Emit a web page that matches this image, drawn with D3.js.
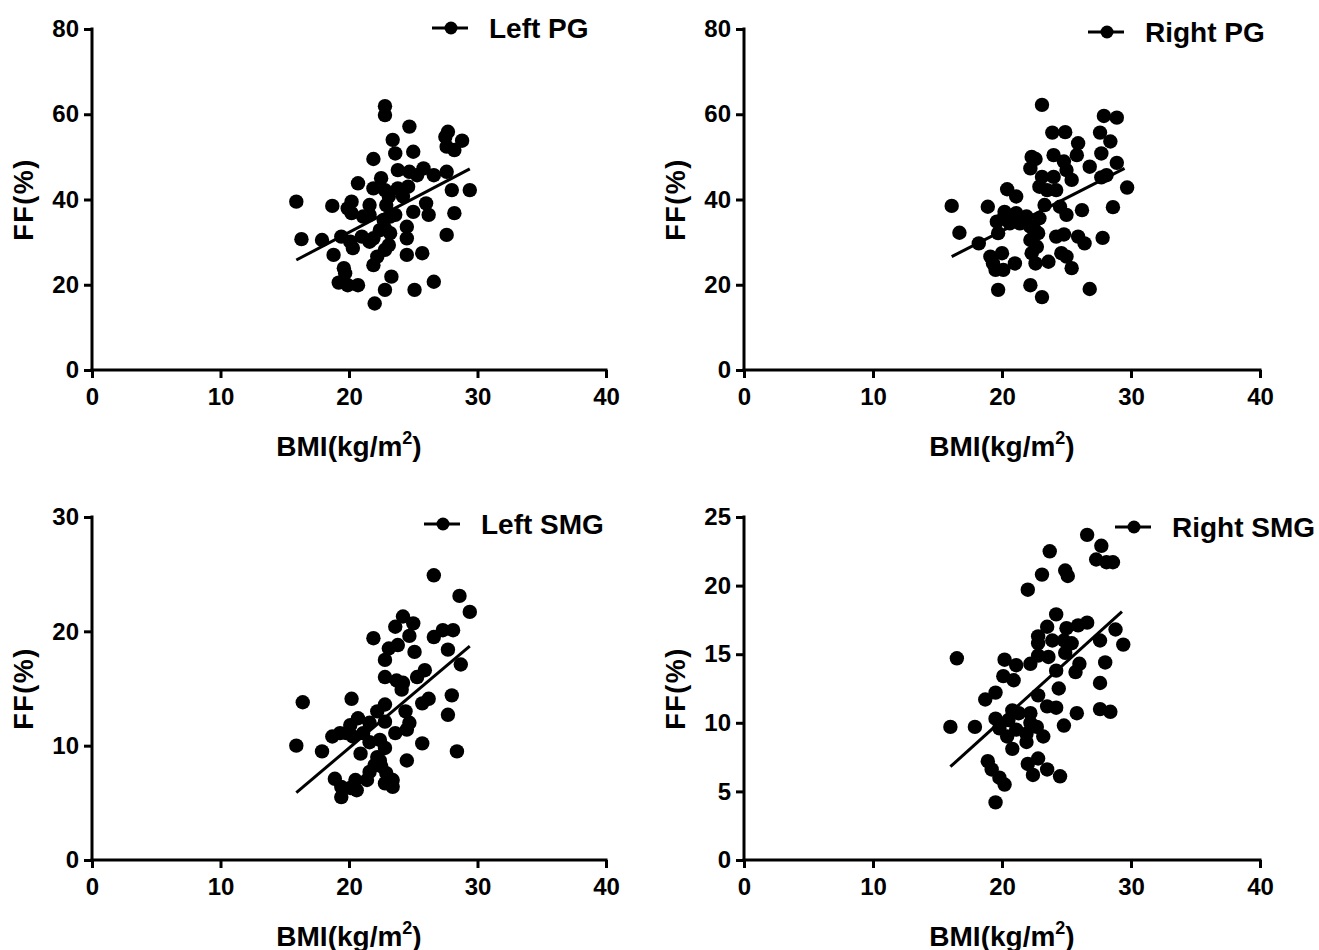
<!DOCTYPE html>
<html>
<head>
<meta charset="utf-8">
<script src="https://cdn.jsdelivr.net/npm/d3@7"></script>
<style>
    body { margin: 0; background: #fff; }
    text { font-family: "Liberation Sans", Arial, sans-serif; font-weight: bold; fill: #000; }
</style>
</head>
<body>
<main></main>
<script>
// values
const leftPgBmi = [22.8,22.8,24.7,27.7,28.8,27.5,28.2,27.6,23.4,23.6,25.0,21.9,23.8,24.7,25.8,26.6,27.6,25.3,22.5,20.7,21.9,22.8,23.8,24.6,28.0,29.4,15.9,18.7,20.2,19.9,21.6,23.1,22.9,24.2,26.0,28.2,26.2,25.0,20.2,21.6,21.1,23.2,23.6,16.3,17.9,19.4,21.0,21.9,22.8,24.5,24.5,20.3,18.8,22.2,22.8,27.6,25.7,24.5,21.9,19.6,19.7,19.2,19.9,20.7,23.3,22.8,25.1,26.6,22.0,22.7,22.4,23.2,23.1,21.6,20.1];
const leftPgFf = [61.9,59.8,57.1,55.9,53.8,54.7,51.6,52.4,54.0,50.8,51.2,49.5,46.9,46.5,47.3,45.7,46.5,45.7,45.0,43.8,42.6,42.2,42.6,43.0,42.2,42.2,39.5,38.5,39.5,37.9,38.7,40.7,38.7,40.7,39.1,36.8,36.4,37.1,36.8,36.4,36.0,36.0,36.4,30.7,30.5,31.3,31.3,30.9,33.2,33.6,30.9,28.6,27.0,26.6,28.2,31.7,27.4,27.0,24.6,23.9,22.7,20.5,19.9,19.9,21.9,18.8,18.8,20.7,15.6,35.2,32.8,32.1,29.3,30.1,30.1];

const rightPgBmi = [23.1,27.9,28.9,23.9,24.9,27.6,28.4,25.9,25.8,27.7,24.0,22.3,22.2,24.8,25.0,26.8,28.9,28.1,27.7,23.1,24.0,25.4,22.9,23.5,24.2,29.7,20.4,21.1,16.1,18.9,23.3,24.5,26.2,28.6,20.2,21.1,21.9,22.9,25.0,19.6,20.1,20.6,21.4,22.2,16.7,19.7,18.2,22.2,24.2,24.8,25.9,26.4,27.8,22.3,22.7,24.6,25.0,19.1,20.0,19.3,19.5,20.1,21.0,22.6,23.6,25.4,19.7,22.2,23.1,26.8,22.8,22.5,22.6];
const rightPgFf = [62.2,59.6,59.2,55.7,55.8,55.7,53.6,53.2,50.4,50.8,50.4,50.0,47.3,48.9,46.9,47.7,48.6,45.7,45.2,45.3,45.3,44.6,43.0,42.2,42.2,42.8,42.4,40.7,38.5,38.3,38.7,38.3,37.5,38.2,37.1,36.8,36.0,35.6,36.4,34.8,35.6,34.4,34.4,33.6,32.2,32.1,29.7,30.5,31.3,31.8,31.3,29.7,31.0,27.4,28.9,27.4,26.6,26.6,27.4,25.0,23.5,23.5,25.0,25.0,25.4,23.9,18.8,19.9,17.1,19.0,32.1,33.0,49.5];

const leftSmgBmi = [26.6,28.6,29.4,24.2,25.0,23.6,24.7,21.9,26.6,27.3,28.1,23.8,23.1,25.1,27.7,22.8,28.7,25.9,25.3,22.8,23.7,24.2,24.1,28.0,16.4,20.2,26.2,25.7,22.8,22.2,24.4,27.7,20.7,22.8,24.7,20.1,21.6,24.5,19.3,18.7,21.1,23.6,20.3,19.8,22.4,21.6,22.8,15.9,17.9,25.7,28.4,20.9,22.2,24.5,22.0,22.5,21.6,22.9,18.9,20.5,21.4,23.4,19.4,20.1,23.4,19.4,22.8,20.6,22.4];
const leftSmgFf = [24.9,23.1,21.7,21.3,20.7,20.4,19.6,19.4,19.5,20.1,20.1,18.8,18.5,18.2,18.4,17.5,17.1,16.6,16.0,16.0,15.7,15.5,14.9,14.4,13.8,14.1,14.1,13.7,13.6,13.0,13.0,12.7,12.4,12.1,12.0,11.8,12.0,11.4,11.1,10.8,11.1,11.1,10.8,11.1,10.5,10.3,9.8,10.0,9.5,10.2,9.5,9.3,9.0,8.7,8.3,8.2,7.7,7.6,7.1,7.0,7.0,7.0,6.4,6.3,6.4,5.5,6.7,6.1,8.7];

const rightSmgBmi = [26.6,27.7,23.7,27.3,28.6,28.1,24.9,25.1,23.1,22.0,24.2,26.6,25.9,25.0,23.5,28.8,22.8,22.8,23.9,24.8,25.4,27.6,29.4,24.9,20.2,22.8,23.6,16.5,21.1,22.2,24.2,26.0,28.0,25.7,20.1,20.9,24.4,27.6,22.8,19.5,18.7,23.5,24.2,25.8,27.6,28.4,20.8,21.3,22.2,19.5,20.5,22.2,22.7,16.0,17.9,24.8,19.8,21.1,20.4,21.9,23.2,20.8,21.9,18.9,19.2,19.8,20.2,22.0,22.8,22.4,23.5,24.5,19.5];
const rightSmgFf = [23.7,22.9,22.5,21.9,21.7,21.7,21.1,20.7,20.8,19.7,17.9,17.3,17.1,16.9,17.0,16.8,16.3,15.8,16.0,16.0,15.8,16.0,15.7,15.1,14.6,14.9,14.8,14.7,14.2,14.3,13.8,14.3,14.4,13.7,13.4,13.1,12.5,12.9,12.0,12.2,11.7,11.2,11.1,10.7,11.0,10.8,10.9,10.7,10.7,10.3,10.2,10.0,9.7,9.7,9.7,9.8,9.6,9.5,9.0,9.2,9.0,8.1,8.6,7.2,6.6,6.0,5.5,7.0,7.4,6.2,6.6,6.1,4.2];

// regression line end points
const leftPgFit = { bmi: [15.9, 29.4], ff: [25.8, 47.2] };
const rightPgFit = { bmi: [16.1, 29.5], ff: [26.6, 47.3] };
const leftSmgFit = { bmi: [15.9, 29.4], ff: [5.9, 18.7] };
const rightSmgFit = { bmi: [16.0, 29.3], ff: [6.8, 18.1] };

const seriesNames = ["Left PG", "Right PG", "Left SMG", "Right SMG"];
const bmiTicks = [0, 10, 20, 30, 40];
const pgTicks = [0, 20, 40, 60, 80];
const leftSmgTicks = [0, 10, 20, 30];
const rightSmgTicks = [0, 5, 10, 15, 20, 25];

const svgSize = { width: 1319, height: 950 };

const panels = [
    { name: seriesNames[0], bmi: leftPgBmi, ff: leftPgFf, fit: leftPgFit, yTicks: pgTicks,
      left: 92, right: 606, top: 29, bottom: 370, legendX: 432, legendY: 28 },
    { name: seriesNames[1], bmi: rightPgBmi, ff: rightPgFf, fit: rightPgFit, yTicks: pgTicks,
      left: 744, right: 1260, top: 29, bottom: 370, legendX: 1088, legendY: 32 },
    { name: seriesNames[2], bmi: leftSmgBmi, ff: leftSmgFf, fit: leftSmgFit, yTicks: leftSmgTicks,
      left: 92, right: 606, top: 517, bottom: 860, legendX: 424, legendY: 524 },
    { name: seriesNames[3], bmi: rightSmgBmi, ff: rightSmgFf, fit: rightSmgFit, yTicks: rightSmgTicks,
      left: 744, right: 1260, top: 517, bottom: 860, legendX: 1115, legendY: 527 }
];

const createCanvas = () => {
    return d3.select("main")
            .append("svg")
            .attr("width", svgSize.width)
            .attr("height", svgSize.height);
};

const drawPanel = (svg, p) => {
    const g = svg.append("g");

    const xScale = d3.scaleLinear()
                    .domain([0, 40])
                    .range([p.left, p.right]);
    const yScale = d3.scaleLinear()
                    .domain([0, d3.max(p.yTicks)])
                    .range([p.bottom, p.top]);

    const xAxis = g.append("g")
        .attr("transform", `translate(0, ${p.bottom})`)
        .call(d3.axisBottom(xScale).tickValues(bmiTicks).tickSize(8).tickSizeOuter(0).tickPadding(10));

    const yAxis = g.append("g")
        .attr("transform", `translate(${p.left}, 0)`)
        .call(d3.axisLeft(yScale).tickValues(p.yTicks).tickSize(8).tickSizeOuter(0).tickPadding(5));

    [xAxis, yAxis].forEach(ax => {
        ax.select(".domain").attr("stroke", "#000").attr("stroke-width", 3);
        ax.selectAll(".tick line").attr("stroke", "#000").attr("stroke-width", 3);
        ax.selectAll(".tick text").style("font-size", "24px");
    });
    // join the two axis lines at the corner
    xAxis.select(".domain").attr("d", `M${p.left - 1.5},0H${p.right + 1.5}`);
    yAxis.select(".domain").attr("d", `M0,${p.top - 1.5}V${p.bottom + 1.5}`);

    // fit line
    const line = d3.line()
        .x(d => xScale(d[0]))
        .y(d => yScale(d[1]));
    g.append("path")
        .datum(d3.zip(p.fit.bmi, p.fit.ff))
        .attr("d", line)
        .attr("fill", "none")
        .attr("stroke", "#000")
        .attr("stroke-width", 3);

    g.selectAll("circle.pt")
        .data(d3.zip(p.bmi, p.ff))
        .enter()
        .append("circle")
        .attr("class", "pt")
        .attr("cx", d => xScale(d[0]))
        .attr("cy", d => yScale(d[1]))
        .attr("r", 7.2)
        .attr("fill", "#000");

    // axis titles
    const xt = g.append("text")
        .attr("x", (p.left + p.right) / 2)
        .attr("y", p.bottom + 86)
        .attr("text-anchor", "middle")
        .style("font-size", "28px");
    xt.append("tspan").text("BMI(kg/m");
    xt.append("tspan").attr("dy", -12).style("font-size", "18px").text("2");
    xt.append("tspan").attr("dy", 12).text(")");

    g.append("text")
        .attr("transform", `translate(${p.left - 59}, ${(p.top + p.bottom) / 2}) rotate(-90)`)
        .attr("text-anchor", "middle")
        .style("font-size", "27px")
        .style("letter-spacing", "1.5px")
        .text("FF(%)");

    // legend
    const lg = g.append("g").attr("transform", `translate(${p.legendX}, ${p.legendY})`);
    lg.append("line")
        .attr("x1", 0).attr("x2", 36)
        .attr("stroke", "#000").attr("stroke-width", 3);
    lg.append("circle").attr("cx", 19).attr("r", 6.5).attr("fill", "#000");
    lg.append("text")
        .attr("x", 57)
        .attr("y", 10)
        .style("font-size", "28px")
        .text(p.name);
};

const driver = () => {
    const svg = createCanvas();
    panels.forEach(p => drawPanel(svg, p));
};

driver();
</script>
</body>
</html>
